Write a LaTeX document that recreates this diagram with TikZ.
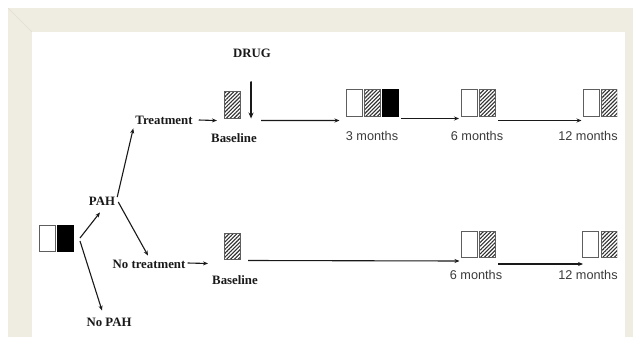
\documentclass[tikz,border=0pt]{standalone}
\usepackage{fontspec}
\setmainfont{Liberation Serif}
\setsansfont{Liberation Sans}
\usetikzlibrary{arrows.meta,patterns.meta,calc}
\definecolor{framebg}{RGB}{239,236,226}
\definecolor{frameedge}{RGB}{226,222,210}
\definecolor{ink}{RGB}{25,25,25}
\begin{document}
\begin{tikzpicture}[x=1pt,y=-1pt,
  lbl/.style={font=\fontsize{12.8}{14}\selectfont\bfseries, text=ink, inner sep=0},
  slbl/.style={font=\fontsize{12.7}{14}\selectfont\sffamily, text=ink!85, inner sep=0},
  cell/.style={draw=ink!70, line width=1pt, minimum width=16pt, minimum height=26pt, inner sep=0, fill=white},
  blk/.style={cell, fill=black, draw=black},
  hatch/.style={draw=ink!70, line width=1pt, minimum width=16pt, minimum height=26pt, inner sep=0,
    pattern={Lines[angle=45,distance=2.7pt,line width=1.1pt]}, pattern color=ink!90},
  arr/.style={draw=ink, line width=1.1pt, -{Stealth[length=5pt,width=4pt]}},
  bigarr/.style={draw=ink, line width=1.8pt, -{Stealth[length=6pt,width=5pt]}},
]
\useasboundingbox (0,0) rectangle (635,337);
% frame
\fill[framebg] (8,8) rectangle (633,337);
\fill[white] (32,32) rectangle (625,337);
\draw[frameedge, line width=0.6pt] (8,8) -- (32,32);

\begin{scope}
\clip (32,32) rectangle (617,337);
% initial pair
\node[cell] (w0) at (47.5,238) {};
\node[blk]  (b0) at (65.5,238) {};
\node[lbl] (pah) at (102,201) {PAH};
\node[lbl] (nopah) at (109,322) {No PAH};
\node[lbl] (treat) at (164,120) {Treatment};
\node[lbl] (notreat) at (149,264) {No treatment};

% treatment row
\node[hatch] (h1) at (232.5,105) {};
\node[lbl] (drug) at (252,53) {DRUG};
\node[lbl] (base1) at (234,138) {Baseline};
\node[cell]  (w3) at (354,103) {};
\node[hatch] (h3) at (372.5,103) {};
\node[blk]   (k3) at (390.5,103) {};
\node[slbl] (mo3) at (372,136) {3 months};
\node[cell]  (w6) at (469.5,103) {};
\node[hatch] (h6) at (487.5,103) {};
\node[slbl] (mo6) at (477,136) {6 months};
\node[cell]  (w12) at (591,103) {};
\node[hatch] (h12) at (609,103) {};
\node[slbl] (mo12) at (588,136) {12 months};

% no treatment row
\node[hatch] (h1b) at (232.5,246) {};
\node[lbl] (base2) at (235,280) {Baseline};
\node[cell]  (w6b) at (469,244.5) {};
\node[hatch] (h6b) at (487.5,244.5) {};
\node[slbl] (mo6b) at (476,275) {6 months};
\node[cell]  (w12b) at (590.5,244.5) {};
\node[hatch] (h12b) at (609,244.5) {};
\node[slbl] (mo12b) at (588,275) {12 months};

% connectors
\draw[arr] ($(b0.east)+(6,0)$) -- ($(pah.south)+(-2,7)$);
\draw[arr] ($(b0.east)+(6,3)$) -- ($(nopah.north)+(-7,-7)$);
\draw[arr] ($(pah.east)+(2,-4)$) -- ($(treat.south west)+(-2,4)$);
\draw[arr] ($(pah.east)+(3,1)$) -- ($(notreat.north)+(-1,-4)$);
\draw[arr] ($(treat.east)+(6,0)$) -- ($(h1.south west)+(-7,2)$);
\draw[bigarr] ($(drug.south)+(-1,24)$) -- ($(h1.south east)+(10,0)$);
\draw[arr] ($(h1.south east)+(20,2)$) -- ($(w3.south west)+(-6,4)$);
\draw[arr] ($(k3.south east)+(2,2)$) -- ($(w6.south west)+(-2,2)$);
\draw[arr] ($(h6.south east)+(2,4)$) -- ($(w12.south west)+(-1,4)$);
\draw[arr] ($(notreat.east)+(2,-1)$) -- ($(h1b.south west)+(-16,4)$);
\draw[arr] ($(h1b.south east)+(7,1)$) -- ($(w6b.south west)+(-1,3)$);
\draw[arr] ($(h6b.south east)+(2,6)$) -- ($(w12b.south west)+(1,6)$);
\end{scope}
\end{tikzpicture}
\end{document}
